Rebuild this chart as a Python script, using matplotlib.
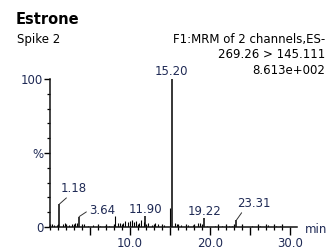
import matplotlib
matplotlib.use("Agg")
import matplotlib.pyplot as plt
from matplotlib.ticker import MultipleLocator, FixedLocator, FixedFormatter

plt.rcParams['font.family'] = ['DejaVu Sans']

# labelled peaks (retention time in min, relative intensity in %)
label_rt = [1.18, 3.64, 11.90, 15.20, 19.22, 23.31]
label_pct = [15.5, 7.0, 7.5, 100.0, 6.0, 4.7]
label_txt = ['1.18', '3.64', '11.90', '15.20', '19.22', '23.31']

# small unlabelled noise spikes
noise_rt = [0.2, 0.5, 0.9, 1.6, 1.9, 2.4, 2.7, 3.1, 3.4, 4.2, 4.7, 5.4, 6.2,
            6.9, 7.4, 8.1, 8.5, 8.8, 9.1, 9.4, 9.7, 10.0, 10.2, 10.5, 10.8,
            11.1, 11.4, 11.7, 12.3, 12.7, 13.1, 13.5, 14.2, 15.0, 15.6, 15.9,
            16.4, 17.2, 17.9, 18.5, 18.8, 19.6, 20.6, 21.5, 22.4, 22.8, 24.0,
            25.2, 26.3, 27.3, 28.3, 28.8]
noise_pct = [2.0, 1.5, 1.5, 2.0, 2.5, 1.5, 2.0, 3.0, 3.0, 2.0, 1.0, 1.5, 1.0,
             1.0, 1.0, 7.5, 3.0, 2.5, 3.0, 4.0, 3.5, 4.0, 4.5, 3.5, 4.0,
             3.0, 4.5, 3.5, 2.5, 1.5, 2.5, 2.0, 1.5, 13.0, 3.0, 2.0,
             1.5, 1.5, 1.5, 2.5, 3.0, 1.0, 1.0, 1.0, 1.0, 1.0, 1.0,
             1.0, 1.0, 1.5, 1.0, 1.0]

xtick_vals = [5, 10, 15, 20, 25, 30]
xtick_labels = ['', '10.0', '', '20.0', '', '30.0']
ytick_vals = [0, 50, 100]
ytick_labels = ['0', '%', '100']

# leader/label offsets in points (dx, dy) and arrow attach point
label_off = [(0.7, 8.6), (7.2, 2.2), (0, 2.2), (0, 2.9), (0.5, 2.2), (0.3, 9.4)]
label_ha = ['left', 'left', 'center', 'center', 'center', 'left']
label_rel = [(0.35, 0), (0, 0.5), None, None, None, (0.2, 0)]

txt_col = '#1f2a55'

fig = plt.figure(figsize=(3.32, 2.49), dpi=100)
ax = fig.add_axes([50 / 332, 1 - 227 / 249, 247 / 332, 148 / 249])

ax.vlines(noise_rt, 0, noise_pct, color='black', lw=0.8)
ax.vlines(label_rt, 0, label_pct, color='black', lw=1.1)

for rt, pct, t, off, ha, rel in zip(label_rt, label_pct, label_txt,
                                    label_off, label_ha, label_rel):
    kw = {}
    if rel is not None:
        kw['arrowprops'] = dict(arrowstyle='-', color='#333333', lw=0.7,
                                relpos=rel, shrinkA=0, shrinkB=0)
    ax.annotate(t, xy=(rt, pct), xytext=off, textcoords='offset points',
                ha=ha, va='baseline', fontsize=8.5, color=txt_col, **kw)

ax.set_xlim(0, 30.875)
ax.set_ylim(0, 100)

for s in ['top', 'right']:
    ax.spines[s].set_visible(False)
for s in ['left', 'bottom']:
    ax.spines[s].set_linewidth(1.1)
    ax.spines[s].set_color('#111111')

ax.xaxis.set_major_locator(FixedLocator(xtick_vals))
ax.xaxis.set_major_formatter(FixedFormatter(xtick_labels))
ax.xaxis.set_minor_locator(MultipleLocator(1))
ax.yaxis.set_major_locator(FixedLocator(ytick_vals))
ax.yaxis.set_major_formatter(FixedFormatter(ytick_labels))
ax.yaxis.set_minor_locator(MultipleLocator(10))

ax.tick_params(axis='x', which='major', direction='out', length=5.8,
               width=1.0, pad=1.2, labelsize=8.5, labelcolor=txt_col)
ax.tick_params(axis='x', which='minor', direction='inout', length=4.3,
               width=0.9)
ax.tick_params(axis='y', which='major', direction='out', length=4.3,
               width=1.0, pad=0.5, labelsize=8.5, labelcolor=txt_col)
ax.tick_params(axis='y', which='minor', direction='out', length=2.2,
               width=0.9)

# header texts
fig.text(16 / 332, 1 - 19 / 249, 'Estrone', fontsize=10.5, fontweight='bold',
         va='center', ha='left')
fig.text(17 / 332, 1 - 40 / 249, 'Spike 2', fontsize=8.5, va='center',
         ha='left')
fig.text(325 / 332, 1 - 40 / 249, 'F1:MRM of 2 channels,ES-', fontsize=8.5,
         va='center', ha='right')
fig.text(325 / 332, 1 - 55 / 249, '269.26 > 145.111', fontsize=8.5,
         va='center', ha='right')
fig.text(325 / 332, 1 - 71 / 249, '8.613e+002', fontsize=8.5,
         va='center', ha='right')
fig.text(305 / 332, 1 - 229 / 249, 'min', fontsize=8.5, va='center',
         ha='left', color=txt_col)

fig.savefig('out.png', dpi=100)
